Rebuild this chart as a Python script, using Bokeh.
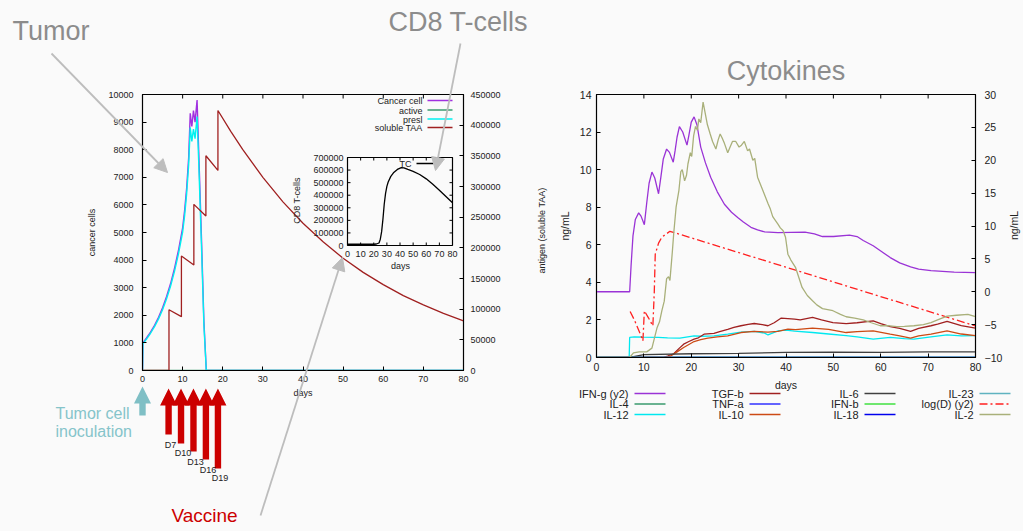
from math import pi
from bokeh.plotting import figure
from bokeh.models import (LinearAxis, Range1d, Label, Arrow, NormalHead,
                          FixedTicker, BasicTickFormatter)
from bokeh.layouts import row, column
from bokeh.embed import file_html
from bokeh.resources import INLINE

FONT = "Liberation Sans"
BG = "#fafafa"

# ======================= DATA : tumour panel =======================
x_ticks = [0, 10, 20, 30, 40, 50, 60, 70, 80]
cells_ticks = [0, 1000, 2000, 3000, 4000, 5000, 6000, 7000, 8000, 9000, 10000]
taa_ticks = [0, 50000, 100000, 150000, 200000, 250000, 300000, 350000, 400000, 450000]
tc_ticks = [0, 100000, 200000, 300000, 400000, 500000, 600000, 700000]

tumor_series = ["Cancer cell", "active", "presl", "soluble TAA"]

cancer_days = [0, 0.1, 1, 2, 3, 4, 5, 6, 7, 8, 9, 10, 10.5, 11, 11.5, 11.9,
               12.3, 12.7, 13.1, 13.6, 14.0, 14.7, 15.3, 15.9, 80]
cancer_vals = [0, 1000, 1180, 1390, 1640, 1930, 2270, 2680, 3150, 3720, 4380,
               5170, 5800, 6600, 7700, 9320, 8840, 9420, 9000, 9800, 8000,
               4800, 1800, 0, 0]
presl_vals = [0, 970, 1140, 1350, 1590, 1870, 2200, 2600, 3060, 3610, 4250,
              5010, 5620, 6400, 7450, 8800, 8300, 8750, 8400, 9200, 7600,
              4500, 1650, 0, 0]
active_days = [0, 80]
active_vals = [0, 0]

taa_days = [0, 6.6, 6.6, 9.7, 9.7, 12.8, 12.8, 15.8, 15.8, 18.8, 18.8, 22, 25,
            30, 35, 40, 45, 50, 55, 60, 65, 70, 75, 80]
taa_vals = [0, 0, 99000, 87750, 186750, 171900, 270900, 252000, 350100, 326250,
            423900, 390000, 360000, 315000, 275000, 240000, 210000, 183000,
            160000, 140000, 122000, 107000, 93000, 81000]

tc_days = [0, 10, 20, 22, 24, 25, 26, 27, 28, 29, 30, 31, 33, 35, 38, 41, 43,
           46, 50, 55, 60, 65, 70, 75, 80]
tc_vals = [10000, 10000, 10000, 12000, 20000, 50000, 110000, 210000, 330000,
           415000, 470000, 505000, 550000, 578000, 605000, 620000, 618000,
           605000, 590000, 565000, 530000, 487000, 440000, 390000, 340000]

inoculation_day = [0]
vaccine_days = [6.5, 9.6, 12.7, 15.8, 18.8]
vaccine_labels = ["D7", "D10", "D13", "D16", "D19"]

# ======================= DATA : cytokine panel =======================
ng_ticks = [0, 2, 4, 6, 8, 10, 12, 14]
y2_ticks = [-10, -5, 0, 5, 10, 15, 20, 25, 30]

ifng_days = [0, 7, 7.3, 7.7, 8.2, 8.9, 9.4, 10.1, 10.6, 11.1, 11.7, 12.3, 13.1,
             13.6, 14.1, 14.8, 15.4, 16.2, 16.6, 17.0, 17.5, 18.2, 19.1, 19.5,
             20.0, 20.6, 21.2, 22, 23, 24.1, 25.5, 27, 28.5, 29.8, 31, 32.6,
             34, 35.5, 38.3, 44, 46, 47.7, 50, 53.4, 55, 56.3, 58.4, 60, 62,
             64, 66.3, 68, 70.6, 75.5, 80]
ifng_vals = [0, 0, 4, 8.5, 11.0, 12.0, 11.5, 10.2, 13.5, 16.5, 18.2, 17.3, 14.9,
             17.5, 20.2, 21.7, 21.2, 19.7, 21.5, 23.5, 25.1, 24.3, 22.3, 23.8,
             25.8, 26.6, 25.4, 22.0, 19.6, 17.4, 15.2, 13.3, 12.1, 11.3, 10.6,
             9.8, 9.4, 9.1, 9.0, 9.06, 8.8, 8.4, 8.4, 8.6, 8.4, 7.8, 7.0, 6.2,
             5.2, 4.4, 3.8, 3.45, 3.2, 3.0, 2.9]

zero_days = [0, 80]
zero_vals = [0, 0]

il12_days = [0, 6.9, 7.0, 8, 10, 13, 15, 17.6, 20.6, 22, 24.8, 27.7, 30.5, 33.3,
             35.5, 36.2, 38.3, 40, 41.8, 45.6, 49, 52.7, 55, 58.4, 62, 65, 67,
             70.6, 74, 77, 80]
il12_vals = [0, 0, 1.07, 1.1, 1.08, 1.07, 1.05, 1.03, 1.15, 1.13, 1.15, 1.24,
             1.35, 1.39, 1.3, 1.2, 1.42, 1.46, 1.4, 1.33, 1.25, 1.16, 1.1, 0.98,
             1.07, 1.0, 0.98, 1.1, 1.2, 1.15, 1.16]

tgfb_days = [0, 14, 15, 16.3, 17.5, 18.4, 19.5, 20.6, 21.5, 22.7, 24.8, 26,
             27.7, 29, 30.5, 32, 33.3, 35, 36.2, 37.5, 39, 41.8, 43, 45.6, 47.5,
             49.9, 52.7, 55, 58.4, 60, 62, 64, 66.3, 68, 70.6, 72, 74, 77, 80]
tgfb_vals = [0, 0, 0.08, 0.2, 0.5, 0.71, 0.85, 0.98, 1.05, 1.24, 1.28, 1.38, 1.5,
             1.6, 1.69, 1.76, 1.81, 1.75, 1.69, 1.85, 2.1, 2.04, 2.0, 2.13, 2.0,
             1.86, 1.8, 1.85, 1.95, 1.8, 1.64, 1.55, 1.39, 1.55, 1.69, 1.78,
             1.92, 1.7, 1.56]

il10_days = [0, 14.5, 15.5, 17, 18.4, 20.6, 22, 23.5, 25.5, 27.7, 30.5, 33.3,
             36.2, 38.3, 40.4, 42, 45.6, 49, 52.7, 55, 58.4, 62, 64, 66.3, 68,
             70.6, 74, 77, 80]
il10_vals = [0, 0, 0.05, 0.3, 0.53, 0.85, 0.95, 1.03, 1.1, 1.15, 1.33, 1.39,
             1.35, 1.39, 1.51, 1.48, 1.56, 1.5, 1.33, 1.38, 1.42, 1.24, 1.15,
             1.03, 1.15, 1.24, 1.42, 1.25, 1.16]

il6_days = [0, 7, 10, 20, 30, 40, 50, 60, 70, 80]
il6_vals = [0, 0, 0.15, 0.2, 0.22, 0.27, 0.28, 0.27, 0.3, 0.3]

logd_days = [7.1, 8, 9, 9.8, 10.1, 11, 11.9, 12.2, 12.4, 13.1, 13.8, 15.5, 80]
logd_vals = [-3.0, -4.3, -6.0, -7.46, -2.9, -4.0, -5.2, 0.0, 5.7, 7.4, 8.3,
             9.2, -5.2]

il2_days = [0, 7, 7.8, 9, 10.6, 11.7, 12.8, 13.3, 13.8, 14.3, 14.8, 15.2, 15.5,
            16.0, 16.3, 16.8, 17.4, 17.8, 18.1, 18.6, 19.0, 19.3, 19.8, 20.1,
            20.5, 20.9, 21.3, 21.6, 22.0, 22.5, 22.8, 23.4, 24.0, 24.5, 25.2,
            25.7, 26.1, 26.5, 27.0, 27.7, 28.2, 28.7, 29.4, 30.1, 30.6, 31.2,
            31.9, 32.3, 33.0, 33.4, 34.0, 35.1, 36.2, 36.7, 37.2, 38.3, 38.8,
            39.4, 39.9, 40.4, 41.0, 42.0, 43.4, 44.5, 45.6, 46.5, 47.7, 49.9,
            51.5, 52.7, 54.5, 56.3, 58, 59.9, 61.5, 63.4, 65, 67, 69, 70.6, 72,
            74, 76, 78.4, 80]
il2_vals = [0, 0, 0.25, 0.3, 0.3, 0.5, 1.6, 1.9, 2.5, 3.0, 4.2, 4.3, 4.1, 5.6,
            6.6, 8.0, 8.9, 9.9, 10.0, 9.4, 9.7, 10.3, 10.9, 10.7, 11.8, 12.3,
            12.1, 12.7, 12.5, 13.6, 13.2, 12.4, 11.9, 11.5, 11.1, 11.6, 11.9,
            11.7, 11.4, 10.9, 11.2, 11.5, 11.5, 11.2, 11.3, 11.5, 11.0, 11.1,
            10.5, 10.6, 9.6, 8.9, 8.2, 7.9, 7.5, 7.1, 6.9, 6.75, 6.4, 5.5, 5.2,
            4.8, 3.73, 3.3, 3.02, 2.8, 2.6, 2.49, 2.3, 2.17, 2.1, 2.0, 1.85,
            1.69, 1.7, 1.64, 1.66, 1.69, 1.75, 1.86, 2.0, 2.2, 2.25, 2.3, 2.17]

cyto_names = ["IFN-g (y2)", "IL-4", "IL-12", "TGF-b", "TNF-a", "IL-10",
              "IL-6", "IFN-b", "IL-18", "IL-23", "log(D) (y2)", "IL-2"]
cyto_colors = ["#9a33d6", "#3a9a6e", "#00e8f0", "#a02020", "#3030ff", "#cc4a14",
               "#404040", "#40e040", "#0000ee", "#5fb3c0", "#ff2020", "#a9b07a"]
tumor_colors = ["#a030e0", "#3a9a6e", "#00f0f0", "#a02020"]


# ======================= helpers =======================
def style_axis(ax, ticks, size, standoff):
    ax.ticker = FixedTicker(ticks=ticks)
    ax.formatter = BasicTickFormatter(use_scientific=False)
    ax.major_tick_in = 4
    ax.major_tick_out = 0
    ax.minor_tick_in = 0
    ax.minor_tick_out = 0
    ax.major_tick_line_color = "black"
    ax.axis_line_color = "black"
    ax.major_label_text_font = FONT
    ax.major_label_text_font_size = f"{size}px"
    ax.major_label_text_color = "#222222"
    ax.major_label_standoff = standoff
    ax.axis_label_text_font = FONT
    ax.axis_label_text_font_size = f"{size}px"
    ax.axis_label_text_font_style = "normal"
    ax.axis_label_text_color = "#222222"


# page geometry (Bokeh's page has no body margin, so page px == canvas px)
PAGE_W, PAGE_H = 1023, 531
L_W = 550
L_FL, L_FT, L_FW, L_FH = 142, 92, 321, 276
R_FL, R_FT, R_FW, R_FH = 596, 94, 379, 263

# ======================= LEFT : tumour =======================
IX0, IX1, IY0, IY1 = 347, 452, 155, 243          # inset box on the page
ixs = 80.0 / (IX1 - IX0)
iys = 700000.0 / (IY1 - IY0)
ix_range = Range1d(-(IX0 - L_FL) * ixs, 80 + (L_FL + L_FW - IX1) * ixs)
iy_range = Range1d(-(L_FT + L_FH - IY1) * iys, 700000 + (IY0 - L_FT) * iys)

pL = figure(width=L_W, height=PAGE_H, frame_width=L_FW, frame_height=L_FH,
            min_border_left=L_FL, min_border_right=L_W - L_FL - L_FW,
            min_border_top=L_FT, min_border_bottom=PAGE_H - L_FT - L_FH,
            x_range=Range1d(0, 80), y_range=Range1d(0, 10000),
            output_backend="svg", toolbar_location=None,
            background_fill_color=BG, border_fill_color=BG,
            outline_line_color="black", outline_line_width=1.2)
pL.extra_y_ranges = {"taa": Range1d(0, 450000), "iy": iy_range}
pL.extra_x_ranges = {"ix": ix_range}
pL.grid.visible = False
style_axis(pL.xaxis[0], x_ticks, 9, 5)
pL.xaxis[0].axis_label = "days"
pL.xaxis[0].axis_label_standoff = 3
style_axis(pL.yaxis[0], cells_ticks, 9, 9)
pL.yaxis[0].axis_label = "cancer cells"
pL.yaxis[0].axis_label_standoff = 8
axT = LinearAxis(y_range_name="taa")
style_axis(axT, taa_ticks, 9, 7)
pL.add_layout(axT, "right")

pL.ray(x=x_ticks[1:-1], y=[10000] * 7, length=4, length_units="screen",
       angle=-pi / 2, line_color="black")

pL.line(cancer_days, cancer_vals, line_color=tumor_colors[0], line_width=1.4)
pL.line(active_days, active_vals, line_color=tumor_colors[1], line_width=1.4)
pL.line(cancer_days, presl_vals, line_color=tumor_colors[2], line_width=1.4)
pL.line(taa_days, taa_vals, y_range_name="taa", line_color=tumor_colors[3],
        line_width=1.3)

# inset (CD8 T-cells)
pL.quad(left=[0], right=[80], bottom=[0], top=[700000], x_range_name="ix",
        y_range_name="iy", fill_color=BG, line_color="black", line_width=1.2)
pL.line(tc_days, tc_vals, x_range_name="ix", y_range_name="iy",
        line_color="black", line_width=1.3)
ixt = x_ticks[1:-1]
iyt = tc_ticks[1:]
for xs_, ys_, ang in [(ixt, [0] * len(ixt), pi / 2),
                      (ixt, [700000] * len(ixt), -pi / 2),
                      ([0] * len(iyt), iyt, 0.0),
                      ([80] * len(iyt), iyt, pi)]:
    pL.ray(x=xs_, y=ys_, length=3, length_units="screen", angle=ang,
           x_range_name="ix", y_range_name="iy", line_color="black")
for t in x_ticks:
    pL.add_layout(Label(x=t, y=0, x_range_name="ix", y_range_name="iy",
                        text=str(t), text_font=FONT, text_font_size="9px",
                        text_color="#222222", text_align="center",
                        text_baseline="middle", y_offset=-8))
for t in tc_ticks:
    pL.add_layout(Label(x=0, y=t, x_range_name="ix", y_range_name="iy",
                        text=str(t), text_font=FONT, text_font_size="9px",
                        text_color="#222222", text_align="right",
                        text_baseline="middle", x_offset=-4))

# ======================= RIGHT : cytokines =======================
R_X0 = L_W
R_W = PAGE_W - L_W
pR = figure(width=R_W, height=PAGE_H, frame_width=R_FW, frame_height=R_FH,
            min_border_left=R_FL - R_X0, min_border_right=R_W - (R_FL - R_X0) - R_FW,
            min_border_top=R_FT, min_border_bottom=PAGE_H - R_FT - R_FH,
            x_range=Range1d(0, 80), y_range=Range1d(0, 14),
            output_backend="svg", toolbar_location=None,
            background_fill_color=BG, border_fill_color=BG,
            outline_line_color="black", outline_line_width=1.2,
            title="Cytokines")
pR.title.text_font = FONT
pR.title.text_font_size = "27px"
pR.title.text_font_style = "normal"
pR.title.text_color = "#8c8c8c"
pR.title.align = "center"
pR.title.standoff = 18
pR.extra_y_ranges = {"y2": Range1d(-10, 30)}
pR.grid.visible = False
style_axis(pR.xaxis[0], x_ticks, 10.5, 5)
pR.xaxis[0].axis_label = "days"
pR.xaxis[0].axis_label_standoff = 5
style_axis(pR.yaxis[0], ng_ticks, 10.5, 5)
pR.yaxis[0].axis_label = "ng/mL"
pR.yaxis[0].axis_label_standoff = 6
ax2 = LinearAxis(y_range_name="y2")
style_axis(ax2, y2_ticks, 10.5, 9)
pR.add_layout(ax2, "right")
pR.ray(x=x_ticks[1:-1], y=[14] * 7, length=4, length_units="screen",
       angle=-pi / 2, line_color="black")

series = [
    (ifng_days, ifng_vals, "y2", "solid"),
    (zero_days, zero_vals, None, "solid"),
    (il12_days, il12_vals, None, "solid"),
    (tgfb_days, tgfb_vals, None, "solid"),
    (zero_days, zero_vals, None, "solid"),
    (il10_days, il10_vals, None, "solid"),
    (il6_days, il6_vals, None, "solid"),
    (zero_days, zero_vals, None, "solid"),
    (zero_days, zero_vals, None, "solid"),
    (zero_days, zero_vals, None, "solid"),
    (logd_days, logd_vals, "y2", "8 3 2 3"),
    (il2_days, il2_vals, None, "solid"),
]
for (dx, dy, rng, dash), col in zip(series, cyto_colors):
    kw = {"y_range_name": rng} if rng else {}
    pR.line(dx, dy, line_color=col, line_width=1.3, line_dash=dash, **kw)

# ======================= OVERLAY : annotations =======================
dpx = L_FW / 80.0
ov = figure(width=PAGE_W, height=PAGE_H, min_border=0,
            x_range=Range1d(0, PAGE_W), y_range=Range1d(PAGE_H, 0),
            x_axis_type=None, y_axis_type=None, output_backend="svg",
            toolbar_location=None, background_fill_alpha=0,
            border_fill_alpha=0, outline_line_color=None,
            styles={"position": "absolute", "left": "0px", "top": "0px",
                    "z-index": "10"})
ov.extra_x_ranges = {"days": Range1d(-L_FL / dpx, 80 + (PAGE_W - L_FL - L_FW) / dpx)}
ov.grid.visible = False


def txt(X, Yc, s, size, color="#222222", align="left", angle=0.0):
    # Yc = vertical centre of the capitals on the page
    ov.add_layout(Label(x=X, y=Yc, text=s, text_font=FONT,
                        text_font_size=f"{size}px", text_color=color,
                        text_align=align, text_baseline="middle", angle=angle))


def seg(X0, Y0, X1, Y1, color, width=1.5, dash="solid", head=None):
    ov.add_layout(Arrow(x_start=X0, y_start=Y0, x_end=X1, y_end=Y1,
                        line_color=color, line_width=width, line_dash=dash,
                        start=None, end=head))


def block_arrows(days, tipY, baseY, bottoms, color, head_half=8.5, shaft_half=3.2):
    hw, sw = head_half / dpx, shaft_half / dpx
    xs, ys = [], []
    for d, b in zip(days, bottoms):
        xs.append([d - sw, d - sw, d - hw, d, d + hw, d + sw, d + sw])
        ys.append([b, baseY, baseY, tipY, baseY, baseY, b])
    ov.patches(xs=xs, ys=ys, x_range_name="days", fill_color=color,
               line_color=None)


# inset axis texts + TC key
txt(296, 200, "CD8 T-cells", 9, align="center", angle=pi / 2)
txt(400, 265, "days", 9, align="center")
txt(411, 163, "TC", 9, align="right")
seg(416, 163, 433, 163, "black", 1.3)

# tumour key
for i, (name, col) in enumerate(zip(tumor_series, tumor_colors)):
    yc = [100, 109.5, 118.5, 127][i]
    txt(422, yc + 0.5, name, 9, align="right")
    seg(427, yc, 452, yc, col, 1.6)

txt(541, 230, "antigen (soluble TAA)", 9, align="center", angle=pi / 2)
txt(1013, 225, "ng/mL", 10.5, align="center", angle=pi / 2)

# cytokine key
col_x = [628, 743, 858, 973]
row_y = [393, 403.5, 414]
for i, (name, col) in enumerate(zip(cyto_names, cyto_colors)):
    c, r = i // 3, i % 3
    X, Y = col_x[c], row_y[r]
    txt(X, Y, name, 11, align="right")
    seg(X + 6, Y, X + 37, Y, col, 1.5, dash=series[i][3])

# big annotations
GRAY = "#8c8c8c"
txt(12, 30, "Tumor", 27, color=GRAY)
txt(388, 21, "CD8 T-cells", 27, color=GRAY)
txt(171, 515, "Vaccine", 19, color="#cc0000")
txt(55, 413, "Tumor cell", 16, color="#85c4ca")
txt(55, 431, "inoculation", 16, color="#85c4ca")

ARW = "#bdbdbd"
for (x0, y0, x1, y1) in [(51, 53, 167, 172), (460, 43, 435, 170),
                         (260, 515, 342, 257)]:
    seg(x0, y0, x1, y1, ARW, 1.8,
        head=NormalHead(size=13, fill_color=ARW, line_color=ARW))

block_arrows(inoculation_day, 386, 403, [415], "#7fbfc5")
block_arrows(vaccine_days, 388, 405, [434, 443, 451, 459, 468], "#cc0000")
lab_y = [444, 452.5, 461, 469, 477.5]
for d, lab, ly in zip(vaccine_days, vaccine_labels, lab_y):
    ov.add_layout(Label(x=d, y=ly, x_range_name="days", text=lab,
                        text_font=FONT, text_font_size="9px",
                        text_color="#222222", text_align="center",
                        text_baseline="middle", x_offset=2))

layout = column(row(pL, pR), ov, styles={"position": "relative"})
html = file_html(layout, INLINE, title="Tumor and cytokines")
html = html.replace("</head>", "<style>body{background:#fafafa;}</style></head>")
open("out.html", "w").write(html)
